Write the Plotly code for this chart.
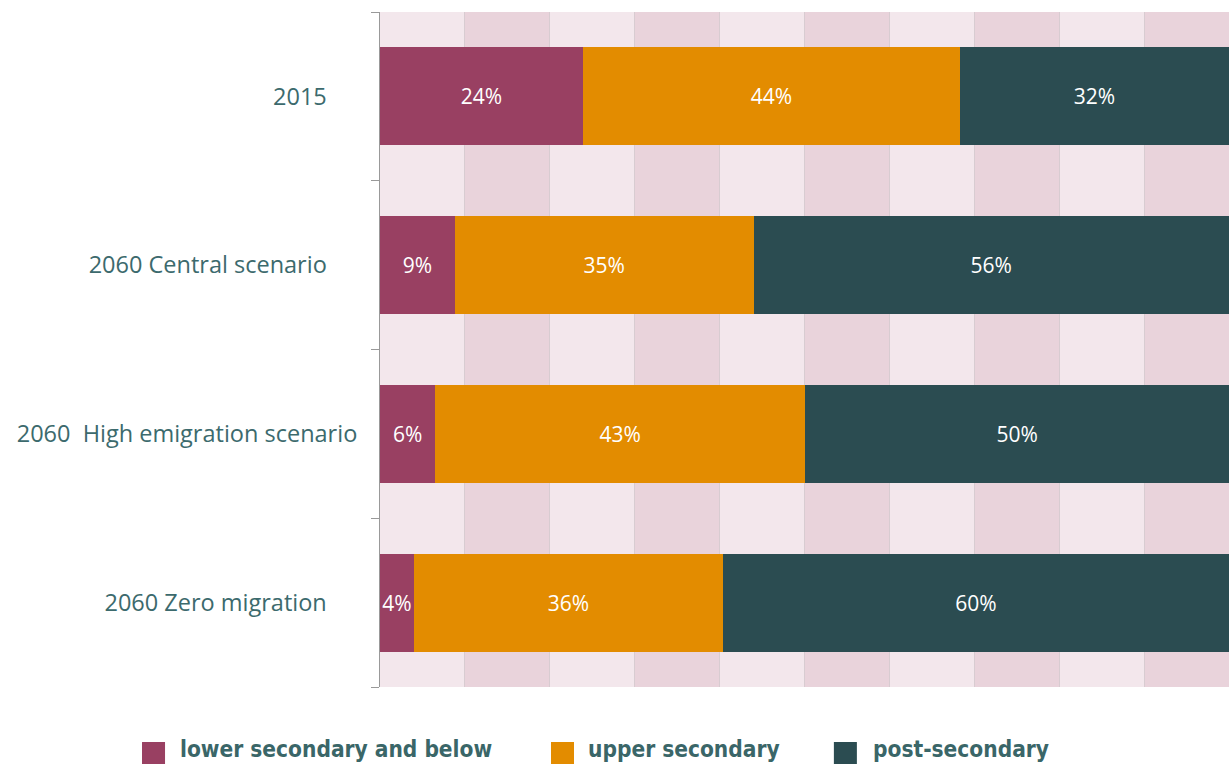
import plotly.graph_objects as go

categories = ["2015", "2060 Central scenario", "2060  High emigration scenario", "2060 Zero migration"]
series_names = ["lower secondary and below", "upper secondary", "post-secondary"]
lower_vals = [23.9, 8.8, 6.5, 4.0]
upper_vals = [44.4, 35.2, 43.6, 36.4]
post_vals = [31.7, 56.0, 49.9, 59.6]
lower_labels = ["24%", "9%", "6%", "4%"]
upper_labels = ["44%", "35%", "43%", "36%"]
post_labels = ["32%", "56%", "50%", "60%"]
colors = ["#994062", "#e38c00", "#2b4c51"]

NB = "\u00a0"
tick_text = [
    "2015" + NB * 5,
    "2060 Central scenario" + NB * 5,
    "2060" + NB * 2 + "High emigration scenario",
    "2060 Zero migration" + NB * 5,
]
label_color = "#3c6a6d"

fig = go.Figure()
for name, vals, labels, col in zip(series_names, [lower_vals, upper_vals, post_vals],
                                   [lower_labels, upper_labels, post_labels], colors):
    fig.add_trace(go.Bar(
        y=categories, x=vals, name=name, orientation="h",
        marker=dict(color=col, line=dict(width=0)),
        text=labels, textposition="inside", insidetextanchor="middle",
        textangle=0, textfont=dict(color="white", size=21, family="Open Sans"),
        showlegend=False, hoverinfo="skip",
    ))

# background stripes
shapes = []
for i in range(10):
    shapes.append(dict(type="rect", xref="x", yref="paper", x0=i * 10, x1=(i + 1) * 10,
                       y0=0, y1=1, fillcolor="#f3e7ec" if i % 2 == 0 else "#e9d3db",
                       line=dict(width=0), layer="below"))

# manual legend
leg_y = -0.092
leg_items = [(-0.2803, -0.2379), (0.2014, 0.2426), (0.5346, 0.5783)]
annotations = []
for (sx, tx), name, col in zip(leg_items, series_names, colors):
    shapes.append(dict(type="rect", xref="paper", yref="paper",
                       x0=sx, x1=sx + 0.0271, y0=-0.1141, y1=-0.0815,
                       fillcolor=col, line=dict(width=0)))
    annotations.append(dict(xref="paper", yref="paper", x=tx, y=leg_y, text="<b>" + name + "</b>",
                            showarrow=False, xanchor="left", yanchor="middle",
                            font=dict(family="DejaVu Sans Condensed", size=22.5, color="#3a6668")))

fig.update_layout(
    barmode="stack",
    bargap=0.42,
    width=1229, height=764,
    margin=dict(l=380, r=0, t=12, b=77),
    paper_bgcolor="white", plot_bgcolor="white",
    shapes=shapes, annotations=annotations,
    uniformtext=dict(minsize=21, mode="show"),
    xaxis=dict(range=[0, 100], showticklabels=False, showgrid=True, gridcolor="#d8ccd1",
               gridwidth=1, dtick=10, zeroline=False, showline=False, ticks=""),
    yaxis=dict(categoryorder="array", categoryarray=categories, autorange="reversed",
               tickmode="array", tickvals=categories, ticktext=tick_text,
               tickson="boundaries", ticks="outside", ticklen=8, tickcolor="#999999",
               showline=True, linecolor="#999999", linewidth=1, showgrid=False,
               tickfont=dict(family="Open Sans", size=23.5, color=label_color),
               ticklabelstandoff=17),
)

fig.write_html("out.html", config={"displayModeBar": False},
               post_script="document.body.style.margin='0';document.body.style.overflow='hidden';")
